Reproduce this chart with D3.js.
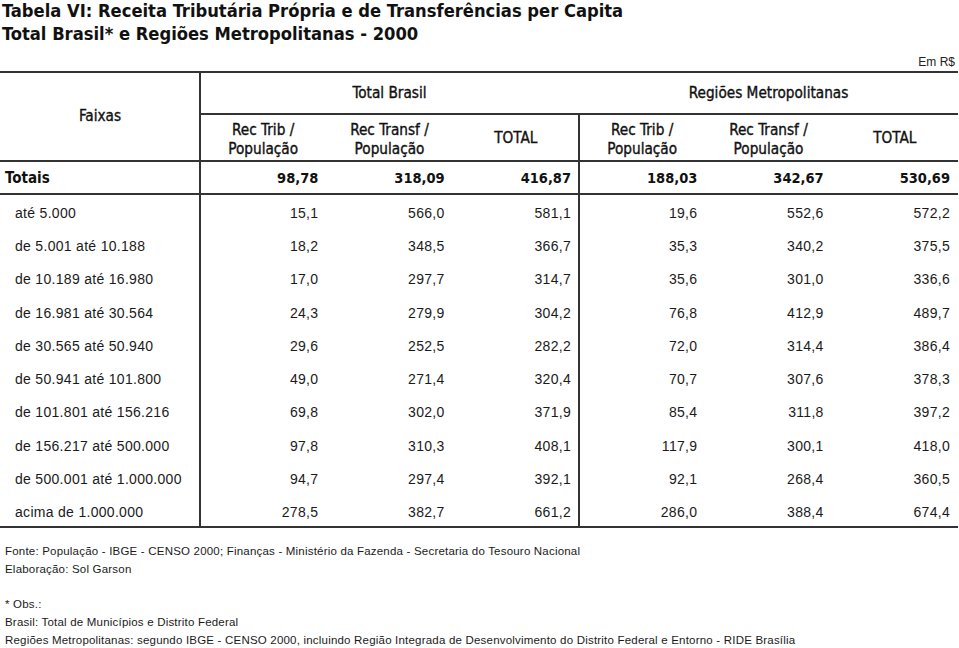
<!DOCTYPE html>
<html><head><meta charset="utf-8">
<script src="https://cdn.jsdelivr.net/npm/d3@7/dist/d3.min.js"></script>
<style>
html,body{margin:0;padding:0;background:#fff;}
svg{display:block;}
</style></head>
<body>
<script>
const titleLines = ["Tabela VI: Receita Tributária Própria e de Transferências per Capita",
                    "Total Brasil* e Regiões Metropolitanas - 2000"];
const unitLabel = "Em R$";
const groups = ["Total Brasil", "Regiões Metropolitanas"];
const columns = [["Rec Trib /","População"],["Rec Transf /","População"],["TOTAL"],
                 ["Rec Trib /","População"],["Rec Transf /","População"],["TOTAL"]];
const totalsLabel = "Totais";
const totals = ["98,78","318,09","416,87","188,03","342,67","530,69"];
const faixas = ["até 5.000","de 5.001 até 10.188","de 10.189 até 16.980","de 16.981 até 30.564",
  "de 30.565 até 50.940","de 50.941 até 101.800","de 101.801 até 156.216","de 156.217 até 500.000",
  "de 500.001 até 1.000.000","acima de 1.000.000"];
const recTribBR   = [15.1,18.2,17.0,24.3,29.6,49.0,69.8,97.8,94.7,278.5];
const recTransfBR = [566.0,348.5,297.7,279.9,252.5,271.4,302.0,310.3,297.4,382.7];
const totalBR     = [581.1,366.7,314.7,304.2,282.2,320.4,371.9,408.1,392.1,661.2];
const recTribRM   = [19.6,35.3,35.6,76.8,72.0,70.7,85.4,117.9,92.1,286.0];
const recTransfRM = [552.6,340.2,301.0,412.9,314.4,307.6,311.8,300.1,268.4,388.4];
const totalRM     = [572.2,375.5,336.6,489.7,386.4,378.3,397.2,418.0,360.5,674.4];
const footnotes = ["Fonte: População - IBGE - CENSO 2000; Finanças - Ministério da Fazenda - Secretaria do Tesouro Nacional",
  "Elaboração: Sol Garson", "", "* Obs.:", "Brasil: Total de Municípios e Distrito Federal",
  "Regiões Metropolitanas: segundo IBGE - CENSO 2000, incluindo Região Integrada de Desenvolvimento do Distrito Federal e Entorno - RIDE Brasília"];

const W = 959, H = 648;
const headFont = "'DejaVu Sans Condensed','DejaVu Sans',sans-serif";
const bodyFont = "'Liberation Sans',Arial,sans-serif";
const ink = "#111";
const lineCol = "#333";

const svg = d3.select("body").append("svg").attr("width", W).attr("height", H);

const series = [recTribBR, recTransfBR, totalBR, recTribRM, recTransfRM, totalRM];
const fmt = v => d3.format(".1f")(v).replace(".", ",");

// scales
const x = d3.scaleBand().domain(d3.range(6)).range([200, 958]);
const xg = d3.scaleBand().domain(groups).range([200, 958]);
const y = d3.scaleBand().domain(faixas).range([194, 527]);
const fy = d3.scalePoint().domain(d3.range(footnotes.length)).range([555, 644]);

const head = sel => sel.attr("font-family", headFont).attr("font-size", 15.2)
  .attr("fill", ink).attr("stroke", ink).attr("stroke-width", 0.35);

// title
svg.selectAll("text.title").data(titleLines).join("text")
  .attr("x", 2).attr("y", (d,i)=>17 + i*23)
  .attr("font-family", headFont).attr("font-weight", "bold").attr("font-size", 18.2)
  .attr("fill", ink).text(d=>d);

svg.append("text").attr("x", 955).attr("y", 66).attr("text-anchor","end")
  .attr("font-family", bodyFont).attr("font-size", 12).attr("fill", "#222").text(unitLabel);

// lines
const hl = [[0,958,72],[200,958,114],[0,958,161],[0,958,194],[0,958,527]];
svg.selectAll("line.h").data(hl).join("line")
  .attr("x1", d=>d[0]).attr("x2", d=>d[1]).attr("y1", d=>d[2]).attr("y2", d=>d[2])
  .attr("stroke", lineCol).attr("stroke-width", 2);
const vl = [[x(0),72,527],[x(3),114,527]];
svg.selectAll("line.v").data(vl).join("line")
  .attr("x1", d=>d[0]).attr("x2", d=>d[0]).attr("y1", d=>d[1]).attr("y2", d=>d[2])
  .attr("stroke", lineCol).attr("stroke-width", 2);

// headers
svg.append("text").attr("x", 100).attr("y", 121).attr("text-anchor","middle")
  .call(head).text("Faixas");
svg.selectAll("text.grp").data(groups).join("text")
  .attr("x", d=>xg(d)+xg.bandwidth()/2).attr("y", 98).attr("text-anchor","middle")
  .call(head).text(d=>d);
const colHead = svg.selectAll("g.col").data(columns).join("g");
colHead.each(function(d,i){
  const g = d3.select(this);
  const cx = x(i) + x.bandwidth()/2;
  d.forEach((t,j)=>{
    g.append("text").attr("x", cx)
      .attr("y", d.length===1 ? 143 : 135 + j*19)
      .attr("text-anchor","middle").call(head).text(t);
  });
});

// totals row
svg.append("text").attr("x", 5).attr("y", 183).attr("font-family", headFont)
  .attr("font-weight","bold").attr("font-size", 15).attr("fill", ink).text(totalsLabel);
svg.selectAll("text.tot").data(totals).join("text")
  .attr("x", (d,i)=>x(i)+x.bandwidth()-8).attr("y", 183).attr("text-anchor","end")
  .attr("font-family", headFont).attr("font-weight","bold").attr("font-size", 14.5)
  .attr("fill", ink).text(d=>d);

// body rows
const rows = svg.selectAll("g.row").data(faixas).join("g")
  .attr("transform", d=>`translate(0,${y(d)+y.bandwidth()/2+7})`);
rows.append("text").attr("x", 15).attr("font-family", bodyFont).attr("font-size", 14)
  .attr("letter-spacing", 0.3).attr("fill", "#1a1a1a").text(d=>d);
rows.each(function(d,r){
  d3.select(this).selectAll("text.v").data(series.map(s=>s[r])).join("text")
    .attr("x",(v,i)=>x(i)+x.bandwidth()-8).attr("text-anchor","end")
    .attr("font-family", bodyFont).attr("font-size", 14).attr("letter-spacing", 0.3)
    .attr("fill","#1a1a1a").text(v=>fmt(v));
});

// footnotes
svg.selectAll("text.foot").data(footnotes).join("text")
  .attr("x", 5).attr("y", (d,i)=>fy(i))
  .attr("font-family", bodyFont).attr("font-size", 11.5).attr("letter-spacing", 0.2)
  .attr("fill", "#1a1a1a").text(d=>d);
</script>
</body></html>
